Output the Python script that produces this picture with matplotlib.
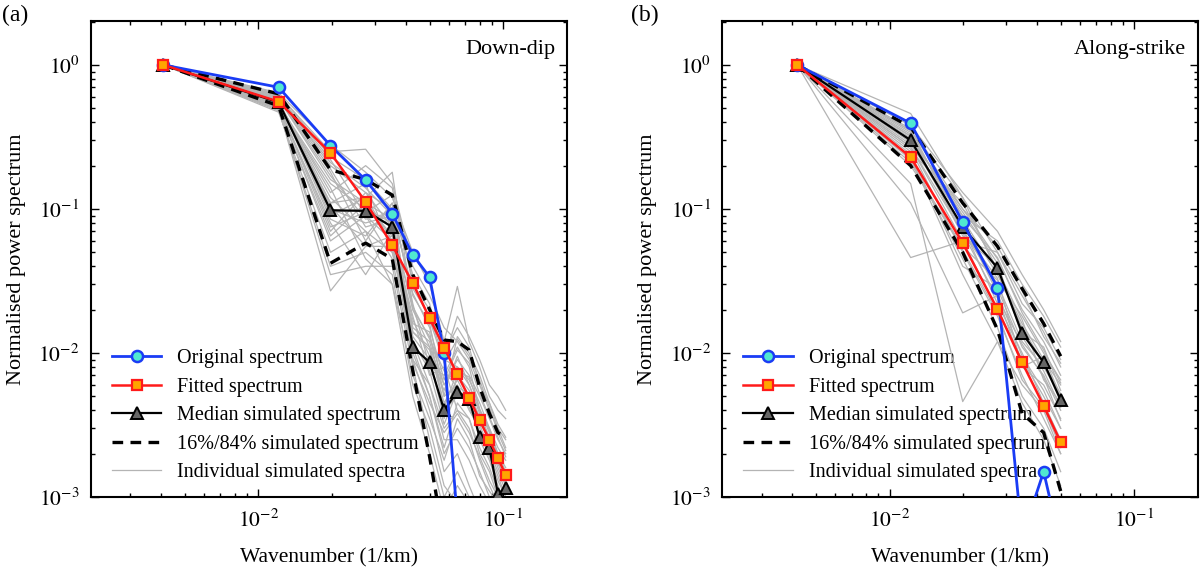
import math
import matplotlib
matplotlib.use("Agg")
import matplotlib.pyplot as plt
from matplotlib.ticker import LogLocator, NullFormatter, FuncFormatter

plt.rcParams["font.family"] = ["Liberation Serif", "DejaVu Serif"]
plt.rcParams["mathtext.fontset"] = "stix"

# === Data ===
# (a) Down-dip
k_a = [0.0041, 0.0121, 0.0197, 0.0274, 0.0352, 0.0427, 0.0500,
       0.0573, 0.0649, 0.0725, 0.0800, 0.0877, 0.0950, 0.1022]
orig_a = [1.0, 0.70, 0.275, 0.159, 0.093, 0.048, 0.0336, 0.0100, 0.0007]
fit_a = [1.0, 0.556, 0.245, 0.112, 0.056, 0.0305, 0.0174, 0.0109, 0.0071,
         0.0049, 0.0034, 0.0025, 0.00186, 0.00142]
med_a = [1.0, 0.55, 0.098, 0.097, 0.075, 0.011, 0.0086, 0.0040, 0.0054,
         0.0048, 0.0026, 0.0022, 0.00105, 0.00115]
up_a = [1.0, 0.63, 0.187, 0.16, 0.125, 0.035, 0.020, 0.0123, 0.012,
        0.0105, 0.0058, 0.0038, 0.0028, 0.0026]
lo_a = [1.0, 0.52, 0.042, 0.058, 0.045, 0.0075, 0.0019, 0.0005, 0.0003,
        0.0002, 0.0002, 0.0001, 0.0001, 0.0001]
sims_a = [
    [1, 0.60, 0.21, 0.14, 0.09, 0.028, 0.018, 0.009, 0.008, 0.006, 0.004, 0.003, 0.002, 0.0015],
    [1, 0.55, 0.12, 0.07, 0.05, 0.012, 0.006, 0.003, 0.004, 0.003, 0.0018, 0.0012, 0.0009, 0.0007],
    [1, 0.50, 0.06, 0.09, 0.06, 0.009, 0.004, 0.0015, 0.002, 0.0012, 0.0008, 0.0006, 0.0005, 0.0004],
    [1, 0.62, 0.25, 0.26, 0.15, 0.04, 0.025, 0.015, 0.012, 0.009, 0.006, 0.004, 0.003, 0.0025],
    [1, 0.57, 0.09, 0.12, 0.18, 0.02, 0.011, 0.006, 0.009, 0.007, 0.005, 0.0035, 0.0025, 0.002],
    [1, 0.48, 0.04, 0.05, 0.035, 0.006, 0.003, 0.0012, 0.0009, 0.0007, 0.0005, 0.0004, 0.0003, 0.0003],
    [1, 0.53, 0.15, 0.10, 0.08, 0.015, 0.012, 0.005, 0.006, 0.004, 0.003, 0.002, 0.0014, 0.001],
    [1, 0.59, 0.18, 0.06, 0.11, 0.022, 0.008, 0.007, 0.011, 0.008, 0.004, 0.0028, 0.002, 0.0016],
    [1, 0.51, 0.08, 0.035, 0.07, 0.01, 0.005, 0.002, 0.003, 0.0022, 0.0015, 0.001, 0.0008, 0.0006],
    [1, 0.56, 0.11, 0.15, 0.05, 0.016, 0.014, 0.004, 0.005, 0.005, 0.0025, 0.0018, 0.0012, 0.0009],
    [1, 0.64, 0.28, 0.18, 0.12, 0.05, 0.03, 0.012, 0.029, 0.012, 0.008, 0.005, 0.004, 0.0035],
    [1, 0.49, 0.035, 0.04, 0.04, 0.008, 0.0025, 0.001, 0.0015, 0.001, 0.0007, 0.0005, 0.0004, 0.0003],
    [1, 0.54, 0.10, 0.08, 0.09, 0.013, 0.009, 0.0035, 0.007, 0.0055, 0.0035, 0.0024, 0.0016, 0.0012],
    [1, 0.58, 0.16, 0.11, 0.065, 0.018, 0.007, 0.008, 0.004, 0.0035, 0.002, 0.0015, 0.001, 0.0008],
    [1, 0.52, 0.07, 0.13, 0.10, 0.025, 0.016, 0.005, 0.013, 0.01, 0.007, 0.0045, 0.0032, 0.0026],
    [1, 0.61, 0.22, 0.09, 0.045, 0.009, 0.006, 0.0025, 0.0025, 0.0018, 0.0012, 0.0009, 0.0007, 0.0005],
    [1, 0.47, 0.05, 0.07, 0.03, 0.007, 0.0035, 0.0018, 0.0035, 0.0025, 0.0014, 0.0011, 0.0009, 0.0007],
    [1, 0.55, 0.13, 0.20, 0.14, 0.03, 0.02, 0.01, 0.015, 0.011, 0.006, 0.0045, 0.003, 0.0022],
    [1, 0.60, 0.19, 0.075, 0.085, 0.014, 0.0105, 0.0045, 0.0065, 0.0045, 0.0032, 0.0021, 0.0015, 0.0011],
    [1, 0.50, 0.027, 0.055, 0.055, 0.011, 0.005, 0.0022, 0.0045, 0.0035, 0.0022, 0.0016, 0.0011, 0.0008],
    [1, 0.57, 0.095, 0.10, 0.075, 0.02, 0.013, 0.006, 0.008, 0.0065, 0.0045, 0.003, 0.0022, 0.0018],
    [1, 0.53, 0.14, 0.045, 0.03, 0.005, 0.002, 0.0008, 0.0012, 0.0009, 0.0006, 0.0005, 0.0004, 0.0003],
    [1, 0.63, 0.23, 0.16, 0.10, 0.035, 0.022, 0.009, 0.018, 0.013, 0.009, 0.006, 0.005, 0.004],
    [1, 0.56, 0.085, 0.065, 0.11, 0.012, 0.0075, 0.0032, 0.0055, 0.0042, 0.0028, 0.0019, 0.0013, 0.001],
    [1, 0.52, 0.11, 0.12, 0.06, 0.017, 0.0095, 0.0055, 0.0095, 0.006, 0.0038, 0.0026, 0.0017, 0.0013],
    [1, 0.58, 0.17, 0.085, 0.095, 0.026, 0.015, 0.0065, 0.0105, 0.0085, 0.0052, 0.0036, 0.0026, 0.0019],
    [1, 0.49, 0.065, 0.11, 0.085, 0.0085, 0.0045, 0.0028, 0.0038, 0.0028, 0.0019, 0.0013, 0.001, 0.0007],
    [1, 0.55, 0.105, 0.055, 0.065, 0.014, 0.011, 0.0042, 0.0075, 0.0068, 0.0041, 0.0029, 0.0019, 0.0014],
    [1, 0.61, 0.2, 0.13, 0.075, 0.021, 0.0125, 0.0075, 0.0058, 0.0052, 0.0036, 0.0025, 0.0018, 0.0012],
    [1, 0.53, 0.075, 0.095, 0.125, 0.032, 0.017, 0.0085, 0.0125, 0.0095, 0.0065, 0.0042, 0.0028, 0.0021],
]

# (b) Along-strike
k_b = [0.0042, 0.0122, 0.0199, 0.0276, 0.0348, 0.0426, 0.0500]
orig_b = [1.0, 0.394, 0.081, 0.0284, 0.00053, 0.0015, 0.00046]
fit_b = [1.0, 0.229, 0.058, 0.0201, 0.0086, 0.0043, 0.0024]
med_b = [1.0, 0.30, 0.075, 0.039, 0.0137, 0.0086, 0.0047]
up_b = [1.0, 0.37, 0.11, 0.055, 0.028, 0.016, 0.0095]
lo_b = [1.0, 0.20, 0.05, 0.0145, 0.0038, 0.0028, 0.0011]
sims_b = [
    [1, 0.46, 0.12, 0.05, 0.025, 0.014, 0.008],
    [1, 0.30, 0.07, 0.03, 0.012, 0.008, 0.005],
    [1, 0.046, 0.06, 0.02, 0.009, 0.005, 0.003],
    [1, 0.15, 0.0046, 0.012, 0.006, 0.004, 0.002],
    [1, 0.11, 0.019, 0.025, 0.008, 0.006, 0.0035],
    [1, 0.35, 0.10, 0.045, 0.02, 0.012, 0.007],
    [1, 0.26, 0.05, 0.018, 0.007, 0.0035, 0.002],
    [1, 0.32, 0.09, 0.06, 0.03, 0.018, 0.011],
    [1, 0.22, 0.045, 0.015, 0.005, 0.003, 0.0015],
    [1, 0.28, 0.085, 0.035, 0.016, 0.009, 0.006],
    [1, 0.33, 0.065, 0.04, 0.014, 0.011, 0.0055],
    [1, 0.24, 0.04, 0.028, 0.011, 0.007, 0.004],
    [1, 0.38, 0.13, 0.07, 0.035, 0.02, 0.012],
    [1, 0.29, 0.075, 0.022, 0.01, 0.0045, 0.0025],
    [1, 0.20, 0.055, 0.032, 0.018, 0.01, 0.0065],
    [1, 0.31, 0.095, 0.042, 0.013, 0.0075, 0.0042],
    [1, 0.27, 0.06, 0.05, 0.022, 0.015, 0.009],
    [1, 0.34, 0.08, 0.026, 0.0095, 0.0055, 0.003],
    [1, 0.25, 0.11, 0.038, 0.017, 0.0065, 0.0045],
    [1, 0.36, 0.07, 0.033, 0.008, 0.0095, 0.005],
    [1, 0.23, 0.035, 0.012, 0.0045, 0.0025, 0.0012],
    [1, 0.30, 0.10, 0.055, 0.027, 0.013, 0.0085],
    [1, 0.27, 0.068, 0.024, 0.0115, 0.0068, 0.0034],
    [1, 0.32, 0.088, 0.046, 0.019, 0.0105, 0.0062],
    [1, 0.21, 0.052, 0.019, 0.0065, 0.0042, 0.0022],
    [1, 0.35, 0.12, 0.036, 0.015, 0.0085, 0.0052],
]

FS = 14.5


def log_label(v, pos):
    return r"$10^{%d}$" % round(math.log10(v))


def draw_panel(ax, k, orig, fit, med, up, lo, sims, title):
    for i, s in enumerate(sims):
        ax.plot(k[:len(s)], s, color="#b4b4b4", lw=0.9, zorder=2,
                label="Individual simulated spectra" if i == 0 else None)
    ax.plot(k[:len(up)], up, color="black", lw=2.4, ls=(0, (3.2, 2.2)), zorder=3,
            label="16%/84% simulated spectrum")
    ax.plot(k[:len(lo)], lo, color="black", lw=2.4, ls=(0, (3.2, 2.2)), zorder=3)
    ax.plot(k[:len(med)], med, color="black", lw=1.6, marker="^", ms=9,
            mfc="#666666", mec="black", mew=1.4, zorder=4,
            label="Median simulated spectrum")
    ax.plot(k[:len(orig)], orig, color="#1a3cf5", lw=2.0, marker="o", ms=8,
            mfc="#50e8d0", mec="#1a3cf5", mew=1.8, zorder=5,
            label="Original spectrum")
    ax.plot(k[:len(fit)], fit, color="#ff1a1a", lw=1.8, marker="s", ms=7.5,
            mfc="#ffa500", mec="#ff1a1a", mew=1.6, zorder=6,
            label="Fitted spectrum")

    ax.set_xscale("log")
    ax.set_yscale("log")
    ax.set_xlim(2.07e-3, 0.182)
    ax.set_ylim(1e-3, 2.02)

    ax.xaxis.set_major_locator(LogLocator(base=10))
    ax.yaxis.set_major_locator(LogLocator(base=10))
    ax.xaxis.set_minor_locator(LogLocator(base=10, subs=range(2, 10)))
    ax.yaxis.set_minor_locator(LogLocator(base=10, subs=range(2, 10)))
    ax.xaxis.set_major_formatter(FuncFormatter(log_label))
    ax.yaxis.set_major_formatter(FuncFormatter(log_label))
    ax.xaxis.set_minor_formatter(NullFormatter())
    ax.yaxis.set_minor_formatter(NullFormatter())
    ax.tick_params(which="both", direction="in", top=True, right=True,
                   labelsize=15.5, width=1.0)
    ax.tick_params(which="major", length=6)
    ax.tick_params(which="minor", length=3)
    ax.tick_params(axis="x", which="major", pad=9)
    ax.tick_params(axis="y", which="major", pad=8)
    for sp in ax.spines.values():
        sp.set_linewidth(1.5)

    ax.set_xlabel("Wavenumber (1/km)", fontsize=15.5, labelpad=12)
    ax.set_ylabel("Normalised power spectrum", fontsize=16, labelpad=9)
    ax.text(0.975, 0.94, title, transform=ax.transAxes, ha="right",
            va="center", fontsize=16)

    h, l = ax.get_legend_handles_labels()
    order = ["Original spectrum", "Fitted spectrum", "Median simulated spectrum",
             "16%/84% simulated spectrum", "Individual simulated spectra"]
    hd = dict(zip(l, h))
    leg = ax.legend([hd[o] for o in order], order, loc="lower left",
                    bbox_to_anchor=(0.032, 0.019), frameon=False,
                    fontsize=FS, handlelength=2.45, handletextpad=0.8,
                    labelspacing=0.46, borderpad=0.3, borderaxespad=0.0)
    leg.set_zorder(1)


fig = plt.figure(figsize=(12, 5.69), dpi=100)
ax1 = fig.add_axes([0.0756, 0.1265, 0.397, 0.8366])
ax2 = fig.add_axes([0.6017, 0.1265, 0.3967, 0.8366])

draw_panel(ax1, k_a, orig_a, fit_a, med_a, up_a, lo_a, sims_a, "Down-dip")
draw_panel(ax2, k_b, orig_b, fit_b, med_b, up_b, lo_b, sims_b, "Along-strike")

fig.text(0.002, 0.973, "(a)", fontsize=17, ha="left", va="center")
fig.text(0.526, 0.973, "(b)", fontsize=17, ha="left", va="center")

fig.savefig("out.png", dpi=100)
